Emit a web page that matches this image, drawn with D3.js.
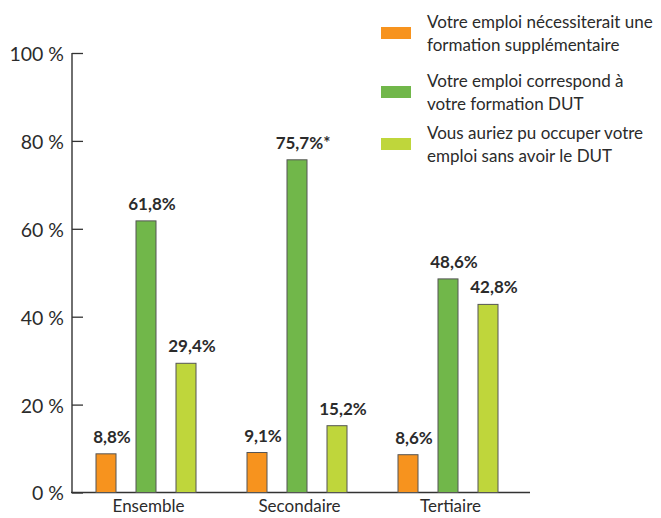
<!DOCTYPE html>
<html>
<head>
<meta charset="utf-8">
<script src="https://cdn.jsdelivr.net/npm/d3@7"></script>
<style>
  body { margin: 0; background: #fff; }
  text { font-family: Lato, "Open Sans", sans-serif; fill: #2b2b2b; }
</style>
</head>
<body>
<div class="chart"></div>
<script>
const width = 661;
const height = 518;

// data
const categories = ['Ensemble', 'Secondaire', 'Tertiaire'];
const seriesNames = ['necessiterait', 'correspond', 'sansDUT'];
const necessiterait = [8.8, 9.1, 8.6];
const correspond = [61.8, 75.7, 48.6];
const sansDUT = [29.4, 15.2, 42.8];
const valueLabels = [
  ['8,8%', '9,1%', '8,6%'],
  ['61,8%', '75,7%*', '48,6%'],
  ['29,4%', '15,2%', '42,8%']
];
const colors = ['#f7931e', '#71b74a', '#bfd63b'];
const legendLines = [
  ['Votre emploi nécessiterait une', 'formation supplémentaire'],
  ['Votre emploi correspond à', 'votre formation DUT'],
  ['Vous auriez pu occuper votre', 'emploi sans avoir le DUT']
];
const yTicks = [0, 20, 40, 60, 80, 100];

const series = [necessiterait, correspond, sansDUT];

const svg = d3.select('.chart')
  .append('svg')
  .attr('width', width)
  .attr('height', height);

const yScale = d3.scaleLinear()
  .domain([0, 100])
  .range([492.5, 53]);

const xScale = d3.scaleBand()
  .domain(categories)
  .range([71, 524]);

const inner = d3.scaleBand()
  .domain(seriesNames)
  .range([15, 135])
  .paddingInner(0.5)
  .paddingOuter(0.25);

// y axis: ticks point inward
const yAxis = d3.axisLeft(yScale)
  .tickValues(yTicks)
  .tickSize(-11)
  .tickPadding(8)
  .tickFormat((d) => `${d} %`);

const gy = svg.append('g')
  .attr('transform', 'translate(72, 0)')
  .call(yAxis);
gy.select('.domain').remove();
gy.selectAll('line').attr('stroke', '#333').attr('stroke-width', 1.3);
gy.selectAll('text')
  .attr('dy', '0.38em')
  .style('font-size', '19.5px')
  .style('font-family', 'Lato, sans-serif')
  .attr('fill', '#2b2b2b');

svg.append('line')
  .attr('x1', 72).attr('x2', 72)
  .attr('y1', yScale(100)).attr('y2', yScale(0))
  .attr('stroke', '#333').attr('stroke-width', 1.4);

// x axis line
svg.append('line')
  .attr('x1', 71).attr('x2', 530)
  .attr('y1', yScale(0)).attr('y2', yScale(0))
  .attr('stroke', '#333').attr('stroke-width', 1.6);

svg.append('g')
  .selectAll('text')
  .data(categories)
  .enter()
  .append('text')
  .attr('x', (d) => xScale(d) + xScale.bandwidth() / 2 + 2)
  .attr('y', 512)
  .attr('text-anchor', 'middle')
  .style('font-size', '17px')
  .text((d) => d);

// bars
seriesNames.forEach((name, si) => {
  const g = svg.append('g');
  g.selectAll('rect')
    .data(series[si])
    .enter()
    .append('rect')
    .attr('x', (_d, i) => xScale(categories[i]) + inner(name))
    .attr('y', (d) => yScale(d))
    .attr('width', inner.bandwidth())
    .attr('height', (d) => yScale(0) - yScale(d))
    .attr('fill', colors[si])
    .attr('stroke', '#555')
    .attr('stroke-width', 1);

  g.selectAll('text')
    .data(series[si])
    .enter()
    .append('text')
    .attr('x', (_d, i) => xScale(categories[i]) + inner(name) + inner.bandwidth() / 2 + 6)
    .attr('y', (d) => yScale(d) - 11)
    .attr('text-anchor', 'middle')
    .style('font-size', '17px')
    .style('font-weight', 'bold')
    .text((_d, i) => valueLabels[si][i]);
});

// legend
const legend = svg.append('g');
const legendTop = [27, 86, 138];
legendLines.forEach((lines, i) => {
  legend.append('rect')
    .attr('x', 381)
    .attr('y', legendTop[i])
    .attr('width', 30)
    .attr('height', 12)
    .attr('fill', colors[i]);
  lines.forEach((line, j) => {
    legend.append('text')
      .attr('x', 427)
      .attr('y', legendTop[i] + 1 + j * 23)
      .style('font-size', '17px')
      .text(line);
  });
});
</script>
</body>
</html>
